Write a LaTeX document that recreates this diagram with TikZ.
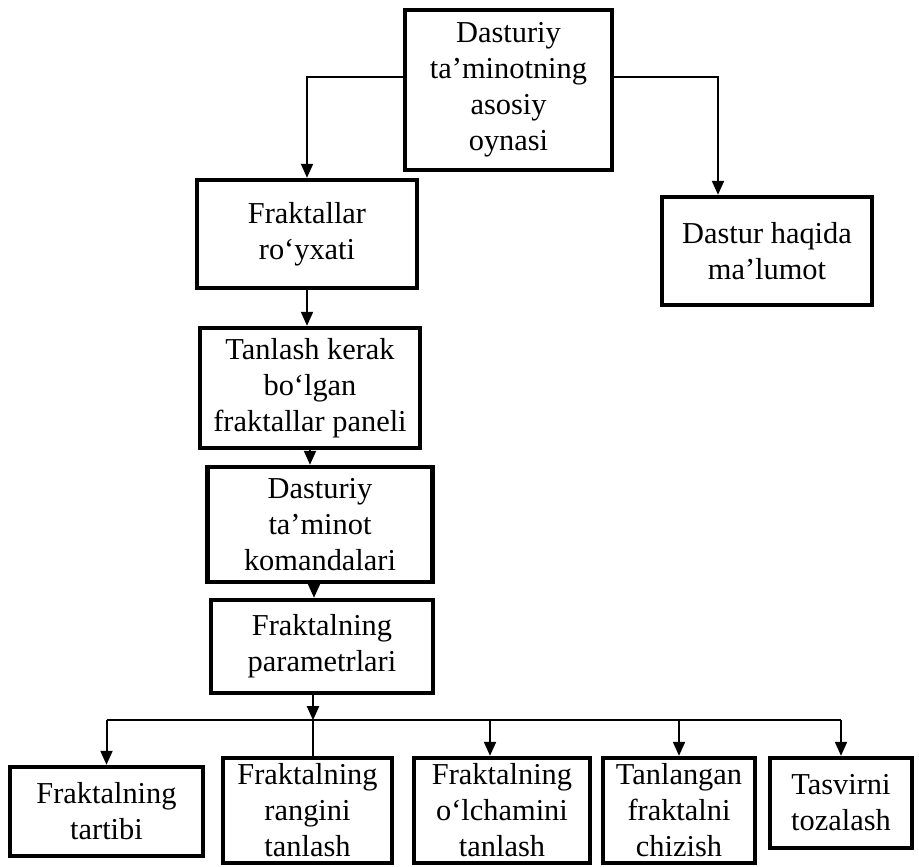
\documentclass[tikz,border=0pt]{standalone}
\usepackage{fontspec}
\setmainfont{Liberation Serif}
\usetikzlibrary{positioning, arrows.meta}

\begin{document}
\begin{tikzpicture}[
        box/.style={draw, rectangle, line width=2.2pt, align=center, inner sep=0.5pt, font=\fontsize{15.2}{18}\selectfont},
        arrow/.style={-{Triangle[width=6pt, length=7pt]}, line width=1pt},
        line/.style={line width=1pt}
    ]
    \useasboundingbox (0,0) rectangle (459.5pt,-433pt);
    \node[box, minimum width=103.5pt, minimum height=80pt] (main) at (254.25pt,-45pt) {Dasturiy\\ta'minotning\\asosiy\\oynasi};
    \node[box, minimum width=110pt, minimum height=54pt] (list) at (153.5pt,-117pt) {Fraktallar\\ro‘yxati};
    \node[box, minimum width=105pt, minimum height=54pt] (about) at (383.5pt,-125.5pt) {Dastur haqida\\ma'lumot};
    \node[box, below=17.8pt of list, xshift=1.5pt, minimum width=110pt, minimum height=60pt] (panel) {Tanlash kerak\\bo‘lgan\\fraktallar paneli};
    \node[box, below=7.3pt of panel, xshift=5pt, minimum width=112.5pt, minimum height=57.5pt] (commands) {Dasturiy\\ta'minot\\komandalari};
    \node[box, below=6.8pt of commands, xshift=1pt, minimum width=111pt, minimum height=46.5pt] (params) {Fraktalning\\parametrlari};

    % bottom row
    \node[box, minimum width=96.5pt, minimum height=44.5pt] (order) at (53.25pt,-405.75pt) {Fraktalning\\tartibi};
    \node[box, right=7.8pt of order, yshift=0.5pt, minimum width=84.5pt, minimum height=52.5pt] (colour) {Fraktalning\\rangini\\tanlash};
    \node[box, right=8.8pt of colour, minimum width=88pt, minimum height=52.5pt] (size) {Fraktalning\\o‘lchamini\\tanlash};
    \node[box, right=4.3pt of size, minimum width=76pt, minimum height=52.5pt] (draw) {Tanlangan\\fraktalni\\chizish};
    \node[box, right=5.3pt of draw.north east, anchor=north west, minimum width=71pt, minimum height=45pt] (clear) {Tasvirni\\tozalash};

    \coordinate[below left=12.5pt and 4.5pt of params.south] (hub);

    \draw[arrow] ([yshift=6.5pt]main.west) -| (list);
    \draw[arrow] ([yshift=6.5pt]main.east) -| ([xshift=-24.5pt]about.north);
    \draw[arrow] (list) -- (list |- panel.north);
    \draw[arrow] (panel) -- (panel |- commands.north);
    \draw[arrow] ([xshift=-3pt]commands.south) -- ([xshift=-3pt]commands.south |- params.north);
    \draw[arrow] (params.south -| hub) -- (hub);
    \draw[line] (order.north |- hub) -- (clear.north |- hub);
    \draw[line] (hub) -- (hub |- colour.north);
    \draw[arrow] (order.north |- hub) -- (order);
    \draw[arrow] ([xshift=-6pt]size.north |- hub) -- ([xshift=-6pt]size.north);
    \draw[arrow] (draw.north |- hub) -- (draw);
    \draw[arrow] (clear.north |- hub) -- (clear);
\end{tikzpicture}
\end{document}
